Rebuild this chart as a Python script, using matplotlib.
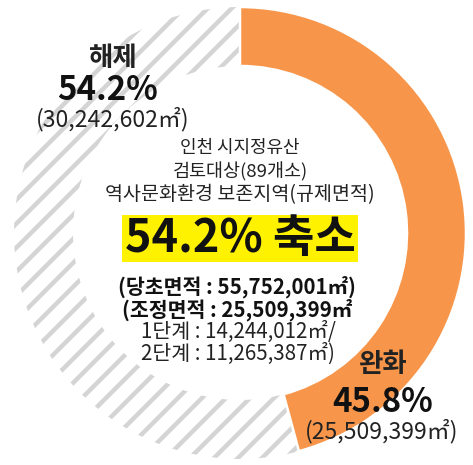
import matplotlib.pyplot as plt
from matplotlib.patches import Rectangle

plt.rcParams["font.family"] = ["Noto Sans CJK KR", "DejaVu Sans"]
plt.rcParams["hatch.linewidth"] = 4.5

# data
labels = ["완화", "해제"]
shares = [45.8, 54.2]
areas = ["25,509,399㎡", "30,242,602㎡"]
center_lines = ["인천 시지정유산", "검토대상(89개소)", "역사문화환경 보존지역(규제면적)"]
headline = "54.2% 축소"
detail_bold = ["(당초면적 : 55,752,001㎡)", "(조정면적 : 25,509,399㎡"]
detail_plain = ["1단계 : 14,244,012㎡/", "2단계 : 11,265,387㎡)"]

W, H = 473, 465
ORANGE = "#f7964a"
HATCH_GRAY = "#d4d4d4"


def Y(y):
    # pixel row from top -> data y
    return H - y


fig = plt.figure(figsize=(W / 72, H / 72), dpi=72)
ax = fig.add_axes([0, 0, 1, 1])

cx, cy, r_out, ring = 240, 233, 226, 59
wedges, _ = ax.pie(
    shares,
    radius=r_out,
    center=(cx, Y(cy)),
    startangle=90,
    counterclock=False,
    wedgeprops=dict(width=ring),
)
wedges[0].set(facecolor=ORANGE, edgecolor="white", linewidth=2.5, zorder=3)
wedges[1].set(facecolor="white", edgecolor=HATCH_GRAY, linewidth=0, hatch="/", zorder=2)

ax.set_xlim(0, W)
ax.set_ylim(0, H)
ax.set_aspect("equal")
ax.axis("off")

# outer labels
ax.text(113, Y(59), labels[1], fontsize=26.5, fontweight="bold", ha="center", va="center", color="#222222")
ax.text(108, Y(90), f"{shares[1]}%", fontsize=33, fontweight="bold", ha="center", va="center", color="#111111")
ax.text(113, Y(119), f"({areas[1]})", fontsize=23, ha="center", va="center", color="#222222")

ax.text(382, Y(365), labels[0], fontsize=26.5, fontweight="bold", ha="center", va="center", color="#222222")
ax.text(383, Y(402), f"{shares[0]}%", fontsize=33, fontweight="bold", ha="center", va="center", color="#111111")
ax.text(382, Y(431), f"({areas[0]})", fontsize=23, ha="center", va="center", color="#222222")

# centre text
center_sizes = [18, 18.5, 19.5]
for i, line in enumerate(center_lines):
    ax.text(240, Y(148 + 23.5 * i), line, fontsize=center_sizes[i], ha="center", va="center", color="#222222")

ax.add_patch(Rectangle((122, Y(262)), 236, 47, facecolor="#fff200", edgecolor="none", zorder=1))
ax.text(240, Y(239), headline, fontsize=45, fontweight="heavy", ha="center", va="center", color="#111111", zorder=4)

for i, line in enumerate(detail_bold):
    ax.text(237, Y(287 + 23 * i), line, fontsize=20.5, fontweight="bold", ha="center", va="center", color="#111111")
for i, line in enumerate(detail_plain):
    ax.text(238, Y(332 + 21.5 * i), line, fontsize=20.5, ha="center", va="center", color="#222222")

fig.savefig("out.png", dpi=72)
